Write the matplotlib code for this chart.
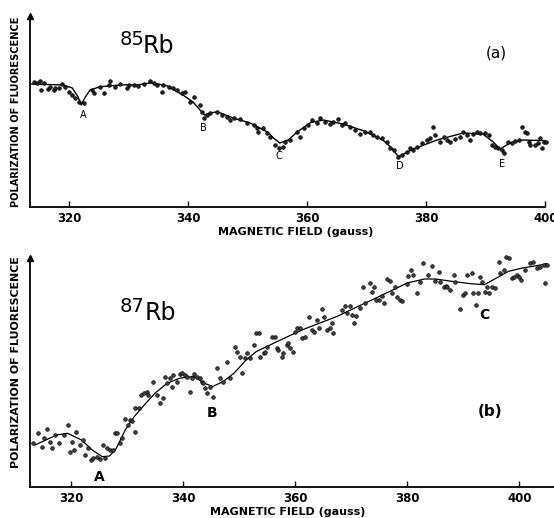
import matplotlib
matplotlib.use("Agg")
import matplotlib.pyplot as plt
from matplotlib import font_manager

names = {f.name for f in font_manager.fontManager.ttflist}
NARROW = 'Liberation Sans Narrow' if 'Liberation Sans Narrow' in names else 'DejaVu Sans'

# ---------------- data: panel (a) 85Rb ----------------
a_curve_x = [313.6, 319.0, 320.5, 321.4, 322.0, 322.7, 323.5, 325.2, 328.6, 331.9, 333.9,
             336.5, 339.1, 340.8, 342.7, 343.7, 344.9, 347.5, 350.4, 353.3, 354.5, 355.4,
             356.8, 358.3, 360.5, 362.7, 366.0, 369.4, 372.7, 374.2, 375.3, 377.8, 381.8,
             386.2, 389.5, 391.2, 392.4, 394.1, 396.2, 400.3]
a_curve_y = [123, 122, 119, 111, 102, 110, 117, 120.3, 122, 122.5, 124.3,
             121, 112, 105, 92, 94, 95.3, 89, 84, 75, 68, 64,
             67, 75, 84.3, 87, 83, 76.3, 67, 59, 50.3, 58, 67,
             74, 73, 65.3, 58, 64, 67, 66.3]

a_dots_x = [314.0, 314.6, 315.1, 315.7, 315.3, 316.5, 316.8, 317.4, 317.6, 318.2, 318.8, 319.3,
            319.9, 320.4, 321.0, 321.6, 322.4, 323.8, 324.1, 325.2, 325.8, 326.6, 326.9, 327.7,
            328.6, 329.7, 330.0, 330.8, 331.6, 332.5, 333.6, 334.2, 334.7, 335.6, 335.8, 336.7,
            337.5, 338.1, 338.9, 339.5, 340.3, 340.9, 342.0, 342.3, 342.7, 343.1, 343.7, 344.8,
            345.6, 346.5, 347.0, 347.6, 348.7, 349.8, 351.0, 351.5, 351.8, 352.6, 353.2, 353.8,
            354.6, 355.2, 356.0, 356.3, 357.1, 358.2, 358.8, 359.4, 360.2, 360.8, 361.6, 362.2,
            363.0, 363.8, 364.4, 365.2, 365.8, 366.4, 367.2, 368.0, 368.9, 369.7, 370.6, 371.1,
            371.7, 372.5, 373.4, 373.9, 374.5, 375.3, 375.9, 376.7, 377.3, 377.8, 378.4, 379.2,
            380.1, 380.6, 381.2, 381.5, 382.3, 382.9, 383.4, 384.0, 384.8, 385.7, 386.2, 386.8,
            387.4, 387.9, 388.5, 389.1, 389.9, 390.5, 391.0, 391.6, 392.1, 392.7, 393.0, 393.8,
            394.4, 394.9, 395.5, 396.1, 396.6, 396.9, 397.2, 397.4, 398.3, 398.8, 399.1, 399.4,
            399.7, 400.2]
a_dots_y = [125.3, 124.3, 126, 123.7, 117, 117.7, 120.3, 117, 118.7, 118.7, 123, 120.3,
            115.3, 112, 108.7, 105.3, 103.7, 117, 113.7, 120.3, 113.7, 122, 126.3, 120.3,
            123, 118.7, 122, 122, 121, 123, 126.3, 123.7, 122, 115.3, 122, 120.3,
            118.7, 117, 113.7, 115.3, 105.3, 110.3, 102, 95.3, 88.7, 92, 93.7, 95.3,
            92, 90.3, 87, 88.7, 87.7, 83.7, 82, 78.7, 75.3, 78.7, 73.7, 70.3,
            62, 58.7, 60.3, 65.3, 67, 75.3, 69.7, 78.7, 82, 87, 84.3, 88.7,
            85.3, 83, 85.3, 87.7, 82, 83.7, 80.3, 77, 73, 75.3, 75.3, 72,
            70.3, 68.7, 65.3, 58.7, 57, 50.3, 52, 55.3, 58.7, 57, 60.3, 63.7,
            67, 68.7, 80.3, 72, 65.3, 70.3, 67, 65.3, 67.7, 70.3, 75.3, 72,
            67, 73, 75.3, 73.7, 73.7, 72, 62, 60.3, 58.7, 57, 53.7, 65.3,
            64.3, 66.3, 67, 80.3, 75.3, 73.7, 65.3, 62, 62, 63.7, 68.7, 58.7,
            65.3, 65.3]

a_marks = ['A', 'B', 'C', 'D', 'E']
a_marks_x = [322.3, 342.6, 355.3, 375.5, 392.7]
a_marks_y = [92, 78.7, 51, 41, 43]

# ---------------- data: panel (b) 87Rb ----------------
b_curve_x = [313.6, 317.5, 319.4, 321.9, 323.8, 325.6, 326.9, 328.1, 329.7, 331.3, 333.1,
             335.0, 337.2, 339.4, 341.9, 343.8, 345.3, 347.2, 349.1, 351.3, 353.1, 355.6,
             358.1, 361.3, 364.4, 367.5, 370.6, 373.8, 376.9, 380.0, 383.1, 385.0, 388.1,
             391.3, 393.8, 395.6, 398.1, 400.6, 403.1, 404.9]
b_curve_y = [41.7, 51.8, 53.4, 46.7, 36.7, 30, 30.7, 38.4, 56.8, 70.1, 81.8,
             93.5, 103.5, 108.5, 110.2, 103.5, 100.2, 105.2, 113.5, 126.9, 135.2, 141.9,
             148.6, 156.9, 163.6, 170.3, 178.6, 187, 195.3, 203.7, 207.7, 207.7, 205.3,
             203, 202, 207.7, 215.4, 218.7, 221, 223]

b_dots_x = [313.3, 314.2, 314.8, 315.2, 315.7, 316.2, 316.6, 317.2, 317.8, 318.7, 319.4, 319.9,
            320.2, 320.6, 320.9, 321.7, 322.2, 322.6, 323.1, 323.6, 324.0, 324.6, 325.2, 325.7,
            326.1, 326.5, 327.0, 327.5, 327.9, 328.2, 328.7, 329.1, 329.7, 330.1, 330.6, 330.9,
            331.5, 331.5, 332.1, 332.5, 333.1, 333.6, 333.8,
            334.7, 335.3, 335.9, 336.4, 336.8, 337.1, 337.7, 338.0, 338.3, 338.9, 339.5, 339.8,
            340.4, 340.7, 341.3, 341.6, 341.9, 342.5, 343.1, 343.4, 343.6, 343.9, 344.2, 344.8,
            345.4, 346.0, 346.6, 347.2, 347.8, 348.4, 349.3, 349.7, 350.2, 350.5, 351.1, 351.4,
            352.0, 352.6, 353.0, 353.5, 353.8, 354.4, 354.6, 354.9, 355.8, 356.4, 356.7, 357.0,
            357.6, 357.9, 358.5, 358.8, 359.1, 359.7, 360.0, 360.3, 360.9, 361.2, 361.8, 362.4,
            363.0, 363.3, 363.9, 364.2, 364.8, 365.1, 365.7, 366.3, 366.5, 366.8,
            368.3, 368.9, 369.3, 369.8, 370.1, 370.5, 370.9, 371.6, 372.1, 372.5, 373.3, 373.7,
            374.0, 374.5, 375.0, 375.5, 375.9, 376.4, 376.9, 377.3, 377.8, 378.1, 378.7, 379.0,
            379.9, 380.2, 380.6, 381.1, 381.7, 382.3, 382.9, 383.8, 384.4, 385.0, 385.6, 385.9,
            386.5, 386.9, 387.1, 387.6, 388.3, 388.6, 389.4, 389.9, 390.3, 390.6, 391.5, 391.8,
            392.3, 392.7, 393.0, 393.3, 393.9, 394.2, 394.6, 395.1, 395.7, 396.3, 396.6, 397.2,
            397.7, 398.1, 398.7, 399.0, 399.6, 399.9, 400.4, 401.0, 401.9, 402.5, 403.1, 403.7,
            404.4, 404.6, 404.9]
b_dots_y = [43.4, 53.4, 40, 48.4, 57.4, 45, 38.4, 51.7, 43.4, 51.7, 61.7, 35,
            45, 36.7, 55, 41.7, 46.7, 31.7, 38.4, 26.7, 28.4, 30, 27.4, 41.7,
            28.4, 38.4, 36.7, 36.7, 53.4, 53.4, 43.4, 48.4, 67.4, 61.7, 66.7, 66,
            55, 78.4, 78.4, 91.7, 93.4, 95, 91.7,
            105, 91.7, 83.4, 88.4, 110, 103.4, 108.4, 100, 111.7, 105, 112.7, 113.4,
            111.7, 109.4, 95, 108.4, 112.7, 110, 108.4, 105, 103.4, 98.4, 93.4, 100,
            90, 118.4, 108.4, 105, 125, 108.4, 140, 135, 130, 113.4, 128.4, 133.4,
            128.4, 141.7, 153.4, 153.4, 130, 133.4, 135, 140, 150, 150, 138.4, 136.7,
            130, 133.4, 141.7, 143.4, 138.4, 135, 155, 158.4, 158.4, 148.4, 150, 169.4,
            156.7, 155, 166.7, 158.4, 177.4, 170, 156.7, 158.4, 163.4, 153.4,
            176.7, 180.7, 173.4, 180.7, 171.7, 164, 170.7, 178.4, 199.4, 183.4, 203.4, 195,
            199.4, 186.7, 186.7, 190.7, 184, 207.4, 206, 194, 200, 190, 186.7, 186,
            202.7, 210.7, 216.7, 211.7, 194, 205, 223.4, 211.7, 220.7, 206, 215, 205,
            200, 200.7, 199.4, 196.7, 211.4, 205, 177.4, 191.7, 194, 211.7, 213.4, 194,
            181.7, 194, 210, 205, 195, 199.4, 194, 200, 198.4, 225, 213.4, 216.7,
            229.4, 228.4, 208.4, 210, 211.7, 209.4, 206.7, 216.7, 224, 225, 218.4, 220,
            221.7, 203.4, 221.7]

b_marks = ['A', 'B', 'C']
b_marks_x = [325.0, 345.2, 393.7]
b_marks_y = [10, 74, 171.7]

xticks = [320, 340, 360, 380, 400]
ylabel_text = 'POLARIZATION OF FLUORESCENCE'
xlabel_text = 'MAGNETIC FIELD (gauss)'

# ---------------- figure ----------------
W, H = 554, 518
fig = plt.figure(figsize=(W / 100, H / 100), dpi=100)
fig.patch.set_facecolor('white')

ax_a = fig.add_axes([30 / W, (H - 207) / H, 515.3 / W, 191 / H])
ax_b = fig.add_axes([30 / W, (H - 486.7) / H, 524 / W, 228.7 / H])

ax_a.set_xlim(313.4, 400.0)
ax_a.set_ylim(0, 191)
ax_b.set_xlim(312.7, 406.2)
ax_b.set_ylim(0, 228.7)


def style(ax):
    for s in ('top', 'right'):
        ax.spines[s].set_visible(False)
    for s in ('left', 'bottom'):
        ax.spines[s].set_linewidth(1.3)
        ax.spines[s].set_color('black')
    ax.set_xticks(xticks)
    ax.set_yticks([])
    ax.tick_params(axis='x', direction='in', length=4, width=1, pad=3.5,
                   labelsize=8.5, colors='black')
    for t in ax.get_xticklabels():
        t.set_fontweight('bold')
        t.set_family('DejaVu Sans')
    ax.plot([0], [1], marker='^', markersize=5, color='black',
            transform=ax.transAxes, clip_on=False)


style(ax_a)
style(ax_b)

# panel a
ax_a.plot(a_curve_x, a_curve_y, color='black', lw=1.0, zorder=3)
ax_a.plot(a_dots_x, a_dots_y, 'o', ms=2.6, mfc='#222222', mec='black', mew=0.5,
          clip_on=False, zorder=4)
for m, x, y in zip(a_marks, a_marks_x, a_marks_y):
    ax_a.text(x, y, m, fontsize=7, ha='center', va='center', family=NARROW)

# panel b
ax_b.plot(b_curve_x, b_curve_y, color='black', lw=0.9, zorder=3)
ax_b.plot(b_dots_x, b_dots_y, 'o', ms=2.6, mfc='#444444', mec='black', mew=0.5,
          clip_on=False, zorder=4)
for m, x, y in zip(b_marks, b_marks_x, b_marks_y):
    ax_b.text(x, y, m, fontsize=10, fontweight='bold', ha='center', va='center',
              family='DejaVu Sans')

# titles / labels (panel a)
ax_a.text(0.174, 0.848, '85', transform=ax_a.transAxes, fontsize=14, ha='left',
          va='baseline')
ax_a.text(0.2183, 0.806, 'Rb', transform=ax_a.transAxes, fontsize=17, ha='left',
          va='baseline')
ax_a.text(0.904, 0.806, '(a)', transform=ax_a.transAxes, fontsize=11, ha='center',
          va='center')
ax_a.text(0.516, -0.131, xlabel_text, transform=ax_a.transAxes, fontsize=8,
          fontweight='bold', ha='center', va='center')
ax_a.text(-13.5 / 515.3, 0.497, ylabel_text, transform=ax_a.transAxes, rotation=90,
          fontsize=7.1, fontweight='bold', ha='center', va='center', family=NARROW)

# titles / labels (panel b)
ax_b.text(0.171, 0.766, '87', transform=ax_b.transAxes, fontsize=14, ha='left',
          va='baseline')
ax_b.text(0.218, 0.730, 'Rb', transform=ax_b.transAxes, fontsize=17, ha='left',
          va='baseline')
ax_b.text(0.878, 0.331, '(b)', transform=ax_b.transAxes, fontsize=11,
          fontweight='bold', ha='center', va='center')
ax_b.text(0.492, -0.111, xlabel_text, transform=ax_b.transAxes, fontsize=8,
          fontweight='bold', ha='center', va='center')
ax_b.text(-13.5 / 524, 0.545, ylabel_text, transform=ax_b.transAxes, rotation=90,
          fontsize=7.9, fontweight='bold', ha='center', va='center', family=NARROW)

fig.savefig('out.png', dpi=100, facecolor='white')
